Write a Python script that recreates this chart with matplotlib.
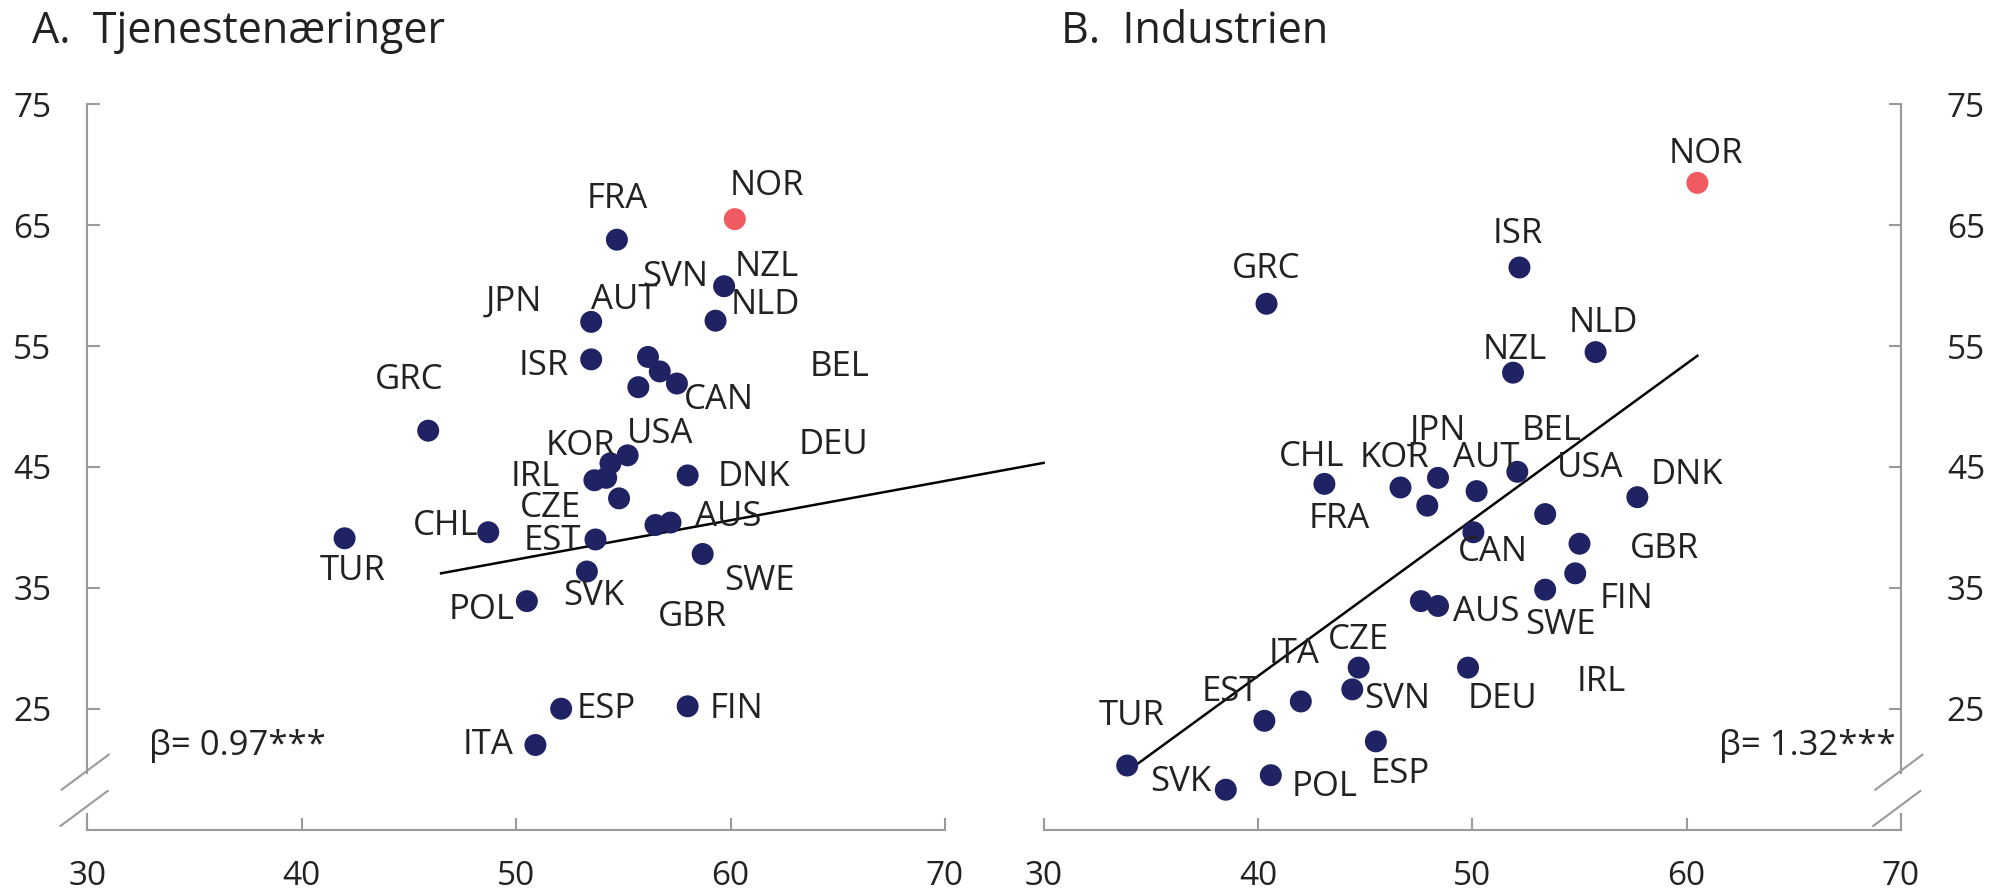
import matplotlib
matplotlib.use("Agg")
import matplotlib.pyplot as plt
import numpy as np

plt.rcParams['font.family'] = ['Open Sans', 'DejaVu Sans']

# ---------------- data ----------------
# Panel A: Tjenestenæringer
a_countries = ["NOR", "FRA", "NZL", "NLD", "AUT", "ISR", "SVN", "BEL", "CAN", "JPN",
               "GRC", "USA", "KOR", "IRL", "DEU", "DNK", "CZE", "CHL", "TUR", "EST",
               "GBR", "AUS", "SWE", "SVK", "POL", "ESP", "FIN", "ITA"]
a_x = [60.2, 54.7, 59.7, 59.3, 53.5, 53.5, 56.15, 56.7, 57.5, 55.7,
       45.9, 55.2, 54.4, 53.65, 54.2, 58.0, 54.8, 48.7, 42.0, 53.7,
       56.5, 57.2, 58.7, 53.3, 50.5, 52.1, 58.0, 50.9]
a_y = [65.5, 63.8, 59.95, 57.1, 57.0, 53.9, 54.1, 52.9, 51.9, 51.6,
       48.0, 45.96, 45.3, 43.9, 44.1, 44.3, 42.4, 39.6, 39.1, 39.0,
       40.2, 40.4, 37.8, 36.35, 33.9, 25.0, 25.2, 22.0]
a_fit_slope = 0.325
a_fit_intercept = 21.09
a_fit_xrange = [46.5, 74.6]
a_beta = "β= 0.97***"

# Panel B: Industrien
b_countries = ["NOR", "ISR", "GRC", "NLD", "NZL", "CHL", "KOR", "JPN", "AUT", "BEL",
               "USA", "DNK", "FRA", "CAN", "GBR", "FIN", "SWE", "AUS", "IRL", "CZE",
               "DEU", "SVN", "ITA", "EST", "ESP", "TUR", "SVK", "POL"]
b_x = [60.5, 52.2, 40.4, 55.75, 51.9, 43.1, 46.65, 48.4, 50.2, 52.1,
       53.4, 57.7, 47.9, 50.05, 55.0, 54.8, 53.4, 48.4, 47.6, 44.7,
       49.8, 44.4, 42.0, 40.3, 45.5, 33.9, 38.5, 40.6]
b_y = [68.5, 61.5, 58.5, 54.5, 52.8, 43.6, 43.3, 44.1, 43.0, 44.6,
       41.1, 42.5, 41.8, 39.6, 38.65, 36.2, 34.85, 33.5, 33.9, 28.4,
       28.4, 26.6, 25.6, 24.0, 22.3, 20.3, 18.3, 19.5]
b_fit_slope = 1.2925
b_fit_intercept = -24.0
b_fit_xrange = [34.35, 60.5]
b_beta = "β= 1.32***"

highlight = "NOR"
x_ticks = [30, 40, 50, 60, 70]
y_ticks = [25, 35, 45, 55, 65, 75]

# ---------------- layout (label offsets in data units) ----------------
a_offsets = {
    "NOR": (1.5, 2.7), "FRA": (0, 3.4), "NZL": (2.0, 1.55), "SVN": (1.25, 6.6),
    "NLD": (2.3, 1.3), "AUT": (1.55, 1.8), "JPN": (-5.8, 7.1), "ISR": (-2.2, -0.55),
    "BEL": (8.4, 0.4), "CAN": (1.95, -1.4), "GRC": (-0.9, 4.2), "USA": (1.5, 1.75),
    "KOR": (-1.4, 1.4), "DEU": (10.6, 2.7), "IRL": (-2.75, 0.25), "DNK": (3.1, -0.15),
    "CZE": (-3.2, -0.8), "CHL": (-2.0, 0.5), "EST": (-2.0, -0.1), "AUS": (2.7, 0.5),
    "GBR": (1.7, -7.65), "TUR": (0.4, -2.7), "SWE": (2.65, -2.2), "SVK": (0.3, -2.05),
    "POL": (-2.1, -0.7), "ESP": (2.1, 0.0), "FIN": (2.3, -0.2), "ITA": (-2.2, 0.0),
}
b_offsets = {
    "NOR": (0.4, 2.4), "ISR": (-0.1, 2.8), "GRC": (0.0, 2.9), "NLD": (0.35, 2.4),
    "NZL": (0.1, 1.9), "CHL": (-0.6, 2.2), "KOR": (-0.3, 2.4), "JPN": (0.0, 3.9),
    "AUT": (0.45, 2.7), "BEL": (1.6, 3.4), "USA": (2.1, 3.8), "DNK": (2.3, 1.8),
    "FRA": (-4.1, -1.1), "CAN": (0.9, -1.6), "GBR": (3.95, -0.45), "FIN": (2.4, -2.1),
    "SWE": (0.7, -2.9), "AUS": (2.25, -0.5), "IRL": (8.4, -6.7), "CZE": (0.0, 2.3),
    "DEU": (1.6, -2.6), "SVN": (2.1, -0.8), "ITA": (-0.3, 3.9), "EST": (-1.6, 2.4),
    "ESP": (1.15, -2.7), "TUR": (0.2, 4.1), "SVK": (-2.1, 0.6), "POL": (2.5, -1.0),
}

NAVY = "#1F2263"
RED = "#EF5B60"
SPINE = "#9A9A9A"
TXT = "#222222"
FS = 25

fig = plt.figure(figsize=(19.95, 8.96), dpi=100)
axA = fig.add_axes([0.04376, 0.0741, 0.4299, 0.8095])
axB = fig.add_axes([0.5231, 0.0741, 0.4298, 0.8095])


def draw_panel(ax, countries, xs, ys, offsets, slope, intercept, xr, beta, side):
    colors = [RED if c == highlight else NAVY for c in countries]
    ax.scatter(xs, ys, s=250, c=colors, edgecolors='none', zorder=3, clip_on=False)
    for c, x, y in zip(countries, xs, ys):
        dx, dy = offsets[c]
        ax.text(x + dx, y + dy, c, ha='center', va='center', fontsize=FS,
                color=TXT, zorder=4)
    fx = np.array(xr)
    ax.plot(fx, intercept + slope * fx, color='black', lw=1.8, clip_on=False, zorder=2)

    ax.set_xlim(30, 70)
    ax.set_ylim(15, 75)
    ax.set_xticks(x_ticks)
    ax.set_yticks(y_ticks)
    ax.spines['top'].set_visible(False)
    ax.spines['bottom'].set_color(SPINE)
    ax.spines['bottom'].set_linewidth(1.5)
    ax.tick_params(axis='x', direction='in', length=9, width=1.5, color=SPINE,
                   labelsize=FS - 1, labelcolor=TXT, pad=22)
    if side == 'left':
        ax.spines['right'].set_visible(False)
        sp = ax.spines['left']
        spx = 30
        ax.tick_params(axis='y', direction='in', length=9, width=1.5, color=SPINE,
                       labelsize=FS - 1, labelcolor=TXT, pad=26, left=True, right=False)
        ax.text(32.9, 21.95, beta, ha='left', va='center', fontsize=FS, color=TXT)
        sl = [(28.8, 18.3, 31.0, 21.2), (28.75, 15.3, 30.95, 18.2)]
    else:
        ax.spines['left'].set_visible(False)
        sp = ax.spines['right']
        spx = 70
        ax.yaxis.tick_right()
        ax.tick_params(axis='y', direction='in', length=9, width=1.5, color=SPINE,
                       labelsize=FS - 1, labelcolor=TXT, pad=33, left=False, right=True)
        ax.text(69.76, 21.9, beta, ha='right', va='center', fontsize=FS, color=TXT)
        sl = [(68.8, 18.3, 71.0, 21.2), (68.7, 15.3, 70.9, 18.2)]
    sp.set_color(SPINE)
    sp.set_linewidth(1.5)
    sp.set_bounds(19.7, 75)
    ax.plot([spx, spx], [15, 16.4], color=SPINE, lw=1.5, clip_on=False,
            solid_capstyle='butt')
    for x0, y0, x1, y1 in sl:
        ax.plot([x0, x1], [y0, y1], color=SPINE, lw=1.5, clip_on=False)
    ax.patch.set_visible(False)


draw_panel(axA, a_countries, a_x, a_y, a_offsets, a_fit_slope, a_fit_intercept,
           a_fit_xrange, a_beta, 'left')
draw_panel(axB, b_countries, b_x, b_y, b_offsets, b_fit_slope, b_fit_intercept,
           b_fit_xrange, b_beta, 'right')

fig.text(32 / 1995, 1 - 43 / 896, "A.  Tjenestenæringer", fontsize=31, color=TXT,
         ha='left', va='baseline')
fig.text(1061 / 1995, 1 - 43 / 896, "B.  Industrien", fontsize=31, color=TXT,
         ha='left', va='baseline')

fig.savefig("out.png", dpi=100)
